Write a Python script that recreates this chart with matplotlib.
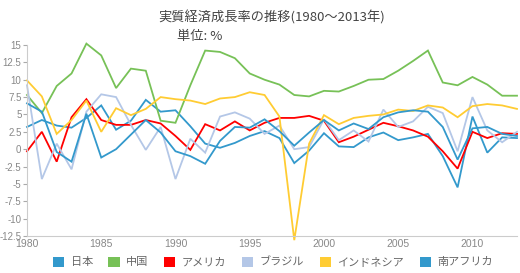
import matplotlib
matplotlib.use("Agg")
import matplotlib.pyplot as plt
from matplotlib.patches import Patch

years = list(range(1980, 2014))
japan = [3.2, 4.2, 3.4, 3.1, 4.5, 6.3, 2.8, 4.1, 7.1, 5.4, 5.6, 3.3, 0.8, 0.2, 0.9, 1.9, 2.6, 1.6, -2.0, -0.2,
         2.3, 0.4, 0.3, 1.7, 2.4, 1.3, 1.7, 2.2, -1.0, -5.5, 4.7, -0.5, 1.7, 1.6]
china = [7.8, 5.2, 9.1, 10.9, 15.2, 13.5, 8.8, 11.6, 11.3, 4.1, 3.8, 9.2, 14.2, 14.0, 13.1, 10.9, 10.0, 9.3, 7.8, 7.6,
         8.4, 8.3, 9.1, 10.0, 10.1, 11.3, 12.7, 14.2, 9.6, 9.2, 10.4, 9.3, 7.7, 7.7]
usa = [-0.3, 2.5, -1.8, 4.6, 7.2, 4.2, 3.5, 3.5, 4.2, 3.7, 1.9, -0.1, 3.6, 2.7, 4.0, 2.7, 3.8, 4.5, 4.5, 4.8,
       4.1, 1.0, 1.8, 2.8, 3.8, 3.3, 2.7, 1.8, -0.3, -2.8, 2.5, 1.6, 2.3, 2.2]
brazil = [9.2, -4.3, 0.8, -2.9, 5.4, 7.9, 7.5, 3.5, -0.1, 3.2, -4.3, 1.5, -0.5, 4.7, 5.3, 4.4, 2.2, 3.4, 0.0, 0.3,
          4.3, 1.3, 2.7, 1.1, 5.7, 3.2, 4.0, 6.1, 5.2, -0.3, 7.5, 2.7, 1.0, 2.5]
indonesia = [9.9, 7.6, 2.2, 4.2, 7.0, 2.5, 5.9, 4.9, 5.8, 7.5, 7.2, 7.0, 6.5, 7.3, 7.5, 8.2, 7.8, 4.7, -13.1, 0.8,
             4.9, 3.6, 4.5, 4.8, 5.0, 5.7, 5.5, 6.3, 6.0, 4.6, 6.2, 6.5, 6.3, 5.8]
south_africa = [6.6, 5.4, -0.4, -1.8, 5.1, -1.2, 0.0, 2.1, 4.2, 2.4, -0.3, -1.0, -2.1, 1.2, 3.2, 3.1, 4.3, 2.6, 0.5, 2.4,
                4.2, 2.7, 3.7, 2.9, 4.6, 5.3, 5.6, 5.4, 3.2, -1.5, 3.0, 3.2, 2.2, 1.9]

names = ["日本", "中国", "アメリカ", "ブラジル", "インドネシア", "南アフリカ"]
series = [japan, china, usa, brazil, indonesia, south_africa]
colors = ["#3399cc", "#77c157", "#ff0000", "#b4c7e7", "#ffcc33", "#3399cc"]

yticks = [15, 12.5, 10, 7.5, 5, 2.5, 0, -2.5, -5, -7.5, -10, -12.5]
xticks = [1980, 1985, 1990, 1995, 2000, 2005, 2010]

plt.rcParams['font.family'] = ['Noto Sans CJK JP', 'DejaVu Sans']
plt.rcParams['axes.unicode_minus'] = False

fig = plt.figure(figsize=(5.2, 2.73), dpi=100)
ax = fig.add_axes([27/520, 1-236/273, 490/520, (236-45)/273])

for vals, c in zip(series, colors):
    ax.plot(years, vals, color=c, lw=1.3, clip_on=False, solid_joinstyle='miter')

ax.set_xlim(1980, 2013)
ax.set_ylim(-12.5, 15)
ax.set_yticks(yticks)
ax.set_yticklabels(["%g" % v for v in yticks])
ax.set_xticks(xticks)
for s in ["top", "right"]:
    ax.spines[s].set_visible(False)
ax.spines["left"].set_color("#cccccc")
ax.spines["bottom"].set_color("#cccccc")
ax.tick_params(axis='y', length=3, color="#aaaaaa", labelsize=7, labelcolor="#888888", pad=1)
ax.tick_params(axis='x', length=0, labelsize=7.5, labelcolor="#888888", pad=2.5)
for lab in ax.get_xticklabels() + ax.get_yticklabels():
    lab.set_family(['Liberation Sans Narrow', 'Liberation Sans', 'DejaVu Sans'])

fig.text(0.523, 0.935, "実質経済成長率の推移(1980〜2013年)", ha='center', va='center', fontsize=9.5, color="#444444")
fig.text(0.34, 0.865, "単位: %", ha='left', va='center', fontsize=9.5, color="#444444")

handles = [Patch(facecolor=c, edgecolor='none', label=n) for n, c in zip(names, colors)]
leg = fig.legend(handles=handles, loc='center', bbox_to_anchor=(0.525, 0.04), ncol=6, frameon=False,
                 fontsize=8, handlelength=1.0, handleheight=1.0, handletextpad=0.6, columnspacing=1.4,
                 labelcolor="#666666")

fig.savefig("out.png", dpi=100)
